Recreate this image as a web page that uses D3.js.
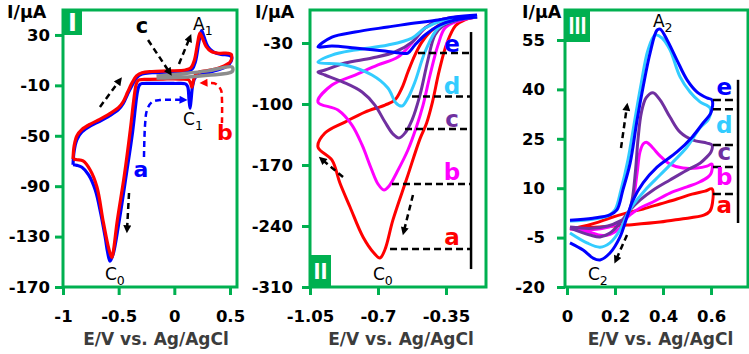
<!DOCTYPE html>
<html>
<head>
<meta charset="utf-8">
<script src="https://cdn.jsdelivr.net/npm/d3@7"></script>
<style>
  body { margin: 0; background: #fff; }
  svg text { font-family: "DejaVu Sans", sans-serif; }
</style>
</head>
<body>
<div id="chart"></div>
<script>
const W = 749, H = 354;
const GREEN = "#00b050";

// ---------- panel I data (E / V, I / uA) ----------
const p1XTicks = [-1, -0.5, 0, 0.5];
const p1YTicks = [30, -10, -50, -90, -130, -170];
const p1CurveA = [[-0.91,-73],[-0.9,-62],[-0.875,-53],[-0.83,-47],[-0.75,-42],[-0.67,-38.5],[-0.58,-34],[-0.5,-29],[-0.46,-24.5],[-0.42,-17],[-0.38,-10],[-0.34,-4],[-0.29,-1],[-0.2,0],[-0.05,0.5],[0.1,1.2],[0.16,3],[0.19,9],[0.22,24],[0.245,33.5],[0.265,29],[0.3,21],[0.35,16.5],[0.42,14.5],[0.49,14],[0.515,12.5],[0.51,9],[0.47,5],[0.38,2],[0.26,-1],[0.19,-3.5],[0.165,-10],[0.15,-22],[0.141,-28],[0.132,-21],[0.12,-11],[0.1,-8.8],[0.0,-8.5],[-0.15,-8.5],[-0.29,-8.5],[-0.305,-9],[-0.32,-11],[-0.335,-17],[-0.375,-47],[-0.43,-80],[-0.5,-120],[-0.55,-144],[-0.578,-149.5],[-0.6,-142],[-0.62,-131],[-0.66,-112],[-0.71,-93],[-0.77,-81],[-0.83,-75],[-0.875,-73.5],[-0.91,-73]];
const p1CurveB = [[-0.91,-68.5],[-0.9,-58],[-0.875,-50],[-0.83,-45],[-0.75,-40.5],[-0.67,-37],[-0.58,-32.5],[-0.5,-27.5],[-0.46,-23],[-0.42,-15.5],[-0.38,-8],[-0.34,-2.5],[-0.29,0],[-0.2,1],[-0.05,1.5],[0.1,2.2],[0.15,4],[0.18,10],[0.21,24],[0.23,31.5],[0.25,28],[0.285,21],[0.33,17],[0.4,15.5],[0.48,15.5],[0.512,14.5],[0.508,9.5],[0.48,7],[0.4,3.8],[0.3,1.8],[0.22,0.5],[0.19,-1.5],[0.172,-6],[0.158,-11.5],[0.145,-8],[0.125,-5.5],[0.05,-5],[-0.1,-5],[-0.25,-5.2],[-0.31,-5.5],[-0.33,-6.5],[-0.345,-10],[-0.365,-22],[-0.395,-45],[-0.45,-82],[-0.515,-119],[-0.545,-140],[-0.56,-146.5],[-0.578,-143],[-0.596,-137],[-0.641,-117],[-0.695,-90.6],[-0.757,-77],[-0.82,-70],[-0.874,-69],[-0.91,-68.5]];
const p1CurveC = [[-0.16,-2.5],[0.1,-0.5],[0.3,1.5],[0.52,4.5],[0.52,1],[0.3,-2],[0.1,-3.5],[-0.16,-4.2]];

// ---------- panel II data ----------
const p2XTicks = [-1.05, -0.7, -0.35];
const p2YTicks = [-30, -100, -170, -240, -310];
const p2CurveA = [[-0.19,-0.2],[-0.25,-3],[-0.3,-10],[-0.345,-30],[-0.385,-62],[-0.42,-98],[-0.45,-122],[-0.484,-140],[-0.551,-185],[-0.623,-233],[-0.664,-267],[-0.69,-276.7],[-0.721,-271],[-0.777,-252.6],[-0.844,-218.2],[-0.896,-190.7],[-0.937,-164.3],[-1.009,-149.3],[-0.973,-133.3],[-0.87,-120.7],[-0.767,-109.2],[-0.664,-101.2],[-0.613,-95.4],[-0.577,-81.6],[-0.546,-63.3],[-0.51,-43.8],[-0.474,-28.9],[-0.422,-15.1],[-0.355,-5.9],[-0.268,-1.3],[-0.19,-0.2]];
const p2CurveB = [[-0.19,-0.2],[-0.288,-4.8],[-0.355,-12.8],[-0.391,-32.3],[-0.432,-66.7],[-0.468,-101.2],[-0.504,-127.5],[-0.546,-152.8],[-0.602,-178],[-0.643,-194.1],[-0.669,-198.7],[-0.7,-191.8],[-0.736,-173.4],[-0.782,-147],[-0.834,-124.1],[-0.906,-106.9],[-1.009,-97.7],[-0.937,-78.2],[-0.818,-66.7],[-0.7,-55.2],[-0.597,-46.1],[-0.525,-30],[-0.458,-12.8],[-0.381,-3.6],[-0.288,-0.2],[-0.19,0.5]];
const p2CurveC = [[-0.19,-0.2],[-0.288,-3.6],[-0.366,-10.5],[-0.407,-20.8],[-0.443,-49.5],[-0.484,-89.7],[-0.525,-118.4],[-0.561,-133.3],[-0.592,-139],[-0.623,-134.4],[-0.664,-120.7],[-0.716,-101.2],[-0.782,-86.2],[-0.88,-74.8],[-0.973,-66.7],[-1.009,-63.3],[-0.973,-61],[-0.87,-53],[-0.731,-47.2],[-0.613,-40.3],[-0.525,-28.9],[-0.458,-12.8],[-0.381,-3.6],[-0.288,-0.2],[-0.19,0.5]];
const p2CurveD = [[-0.19,-0.2],[-0.304,-3.6],[-0.391,-12.8],[-0.458,-40.3],[-0.51,-74.8],[-0.546,-93.1],[-0.577,-102.3],[-0.607,-98.9],[-0.649,-81.6],[-0.731,-66.7],[-0.87,-55.2],[-1.009,-51.8],[-0.937,-43.8],[-0.818,-38],[-0.649,-32.3],[-0.525,-24.3],[-0.458,-12.8],[-0.355,-3.6],[-0.19,1]];
const p2CurveE = [[-0.19,-0.2],[-0.304,-3.6],[-0.381,-9.3],[-0.458,-20.8],[-0.51,-32.3],[-0.546,-41.5],[-0.587,-41.5],[-0.664,-39.2],[-0.818,-35.7],[-0.937,-33.4],[-1.009,-34.6],[-0.937,-23.1],[-0.818,-17.4],[-0.649,-11.6],[-0.51,-7],[-0.391,-3.6],[-0.304,-0.2],[-0.19,2.1]];
const p2Levels = [-266.5, -191.9, -128.7, -91.4, -41.5];   // a..e

// ---------- panel III data ----------
const p3XTicks = [0, 0.2, 0.4, 0.6];
const p3YTicks = [55, 40, 25, 10, -5, -20];
const p3CurveA = [[0.0125,-2.4],[0.054,-1.8],[0.117,-0.6],[0.179,0.95],[0.25,2.5],[0.317,3.7],[0.3875,5.2],[0.458,6.7],[0.521,8.2],[0.575,9.1],[0.604,9.8],[0.606,5.5],[0.595,3],[0.57,1.8],[0.471,0.6],[0.3875,-0.3],[0.25,-1.2],[0.1375,-1.8],[0.0125,-2.1]];
const p3CurveB = [[0.0125,-2.1],[0.1,-2.6],[0.175,-1.8],[0.22,-0.3],[0.25,1.5],[0.275,6.4],[0.292,14.6],[0.304,21],[0.318,23.5],[0.333,23.9],[0.358,22.2],[0.3875,19.8],[0.429,17.3],[0.483,16.1],[0.542,16.1],[0.583,16.7],[0.604,17.3],[0.6,14.5],[0.5875,13.4],[0.55,11.8],[0.5,10.4],[0.429,8.5],[0.358,5.8],[0.304,4],[0.27,2.3],[0.25,1],[0.221,-2.1],[0.18,-4],[0.14,-4.3],[0.1,-3.5],[0.0125,-2.3]];
const p3CurveC = [[0.0125,-1.8],[0.1,-2.2],[0.17,-1.5],[0.22,0],[0.25,1.5],[0.27,6],[0.285,15],[0.296,25],[0.31,33],[0.33,37.5],[0.358,39],[0.3875,36.8],[0.429,31.6],[0.471,27],[0.525,24.6],[0.583,23.7],[0.604,23.1],[0.6,21],[0.583,19.5],[0.554,17.6],[0.5,15.5],[0.429,12.5],[0.358,9.4],[0.304,6.4],[0.2625,3.4],[0.221,-0.6],[0.179,-3.6],[0.1375,-4.8],[0.096,-4.2],[0.0125,-2.1]];
const p3CurveD = [[0.0125,0],[0.108,0.6],[0.171,1.6],[0.2,3.4],[0.225,9.5],[0.254,18.6],[0.279,29.2],[0.308,41.3],[0.3375,52],[0.367,56.5],[0.396,55.6],[0.429,52],[0.471,43.8],[0.5125,39.2],[0.554,36.2],[0.596,34.3],[0.59,31],[0.554,28.3],[0.5,22.5],[0.442,18],[0.3875,14],[0.325,9.4],[0.275,4.9],[0.25,1.9],[0.221,-2.7],[0.179,-6.6],[0.1375,-7.9],[0.083,-6.6],[0.0125,-3.6]];
const p3CurveE = [[0.0125,0.3],[0.108,0.9],[0.179,1.9],[0.208,3.4],[0.233,9.5],[0.263,17.6],[0.292,30.7],[0.317,40.7],[0.346,51],[0.375,58],[0.388,58.3],[0.417,55],[0.458,48.9],[0.5,42.9],[0.542,39.2],[0.583,37.4],[0.604,36.8],[0.6,33],[0.567,29.8],[0.521,25.5],[0.458,21],[0.375,16.4],[0.317,11.6],[0.275,6.4],[0.25,1.25],[0.221,-4.8],[0.179,-9.7],[0.1375,-11.8],[0.108,-11.2],[0.067,-8.8],[0.0125,-6.6]];
const p3Levels = [8.2, 16.4, 23.1, 34, 36.8];   // a..e

const seriesNames = ["a", "b", "c", "d", "e"];
const seriesColors = ["#ff0000", "#ff00ff", "#7030a0", "#33ccff", "#0000ff"];

const svg = d3.select("#chart").append("svg")
    .attr("width", W)
    .attr("height", H);

// arrow heads
const defs = svg.append("defs");
[["k", "#000"], ["r", "#ff0000"], ["b", "#0000ff"]].forEach(([id, col]) => {
    defs.append("marker")
        .attr("id", "head-" + id)
        .attr("viewBox", "0 0 10 10")
        .attr("refX", 6).attr("refY", 5)
        .attr("markerWidth", 9).attr("markerHeight", 8)
        .attr("markerUnits", "userSpaceOnUse")
        .attr("orient", "auto")
        .append("path")
        .attr("d", "M0,0L10,5L0,10z")
        .attr("fill", col);
});

function makePanel(o) {
    const x = d3.scaleLinear().domain(o.xDomain).range([o.left, o.right]);
    const y = d3.scaleLinear().domain(o.yDomain).range([o.bottom, o.top]);
    const g = svg.append("g");

    const xAxis = g.append("g")
        .attr("transform", `translate(0,${o.bottom})`)
        .call(d3.axisBottom(x).tickValues(o.xTicks).tickFormat(d => String(d))
            .tickSize(8).tickSizeOuter(0).tickPadding(15));
    const yAxis = g.append("g")
        .attr("transform", `translate(${o.left},0)`)
        .call(d3.axisLeft(y).tickValues(o.yTicks).tickFormat(d => String(d))
            .tickSize(8).tickSizeOuter(0).tickPadding(o.yPad));
    [xAxis, yAxis].forEach(a => {
        a.select(".domain").remove();
        a.selectAll("line").attr("stroke", GREEN).attr("stroke-width", 3);
        a.selectAll("text")
            .attr("fill", "#000")
            .style("font-family", "'DejaVu Sans', sans-serif")
            .style("font-size", "16.5px")
            .style("font-weight", "bold");
    });

    g.append("rect")
        .attr("x", o.left).attr("y", o.top)
        .attr("width", o.right - o.left).attr("height", o.bottom - o.top)
        .attr("fill", "none")
        .attr("stroke", GREEN)
        .attr("stroke-width", 3);

    // axis titles
    g.append("text")
        .attr("x", (o.left + o.right) / 2 + o.titleShift)
        .attr("y", 345)
        .attr("text-anchor", "middle")
        .attr("fill", "#3c3c3c")
        .style("font-size", "17px")
        .style("font-weight", "bold")
        .text("E/V vs. Ag/AgCl");
    g.append("text")
        .attr("x", o.yTitleX)
        .attr("y", 18)
        .style("font-size", "17.5px")
        .style("font-weight", "bold")
        .text("I/μA");

    return { g, x, y };
}

function curveLine(p) {
    return d3.line()
        .x(d => p.x(d[0]))
        .y(d => p.y(d[1]))
        .curve(d3.curveCatmullRom.alpha(0.5));
}

function drawCurve(p, data, color, width) {
    p.g.append("path")
        .attr("d", curveLine(p)(data))
        .attr("fill", "none")
        .attr("stroke", color)
        .attr("stroke-width", width || 3)
        .attr("stroke-linejoin", "round");
}

function arrow(p, pts, color, head) {
    p.g.append("path")
        .attr("d", curveLine(p)(pts))
        .attr("fill", "none")
        .attr("stroke", color)
        .attr("stroke-width", 2.5)
        .attr("stroke-dasharray", "6,4")
        .attr("marker-end", `url(#head-${head})`);
}

function letter(p, E, I, txt, color, size) {
    p.g.append("text")
        .attr("x", p.x(E)).attr("y", p.y(I))
        .attr("text-anchor", "middle")
        .attr("fill", color)
        .style("font-size", size + "px")
        .style("font-weight", "bold")
        .text(txt);
}

function peakLabel(p, E, I, main, sub) {
    const t = p.g.append("text")
        .attr("x", p.x(E)).attr("y", p.y(I))
        .attr("fill", "#000")
        .style("font-size", "17px");
    t.append("tspan").text(main);
    t.append("tspan").attr("dy", 5).style("font-size", "12.5px").text(sub);
}

function panelTag(x0, y0, w, h, txt, size, len) {
    svg.append("rect")
        .attr("x", x0).attr("y", y0).attr("width", w).attr("height", h)
        .attr("fill", GREEN);
    const t = svg.append("text")
        .attr("x", x0 + w / 2).attr("y", y0 + h - (h - size * 0.73) / 2)
        .attr("text-anchor", "middle")
        .attr("fill", "#fff")
        .style("font-size", size + "px")
        .style("font-weight", "bold")
        .text(txt);
    if (len) t.attr("textLength", len).attr("lengthAdjust", "spacingAndGlyphs");
}

// ================= Panel I =================
const p1 = makePanel({
    left: 63, right: 237, top: 10, bottom: 287,
    xDomain: [-1, 0.563], yDomain: [-170, 49.8],
    xTicks: p1XTicks, yTicks: p1YTicks, yPad: 5,
    titleShift: 6, yTitleX: 7
});
drawCurve(p1, p1CurveA, "#0000ff", 3.2);
drawCurve(p1, p1CurveB, "#ff0000", 3.2);
drawCurve(p1, p1CurveC, "#8c8c8c", 3.5);

arrow(p1, [[-0.668, -27.1], [-0.488, -5.7]], "#000", "k");
arrow(p1, [[0.042, 7], [0.141, 28.4]], "#000", "k");
arrow(p1, [[-0.236, 26], [-0.039, -0.2]], "#000", "k");
arrow(p1, [[-0.407, -95.4], [-0.425, -124.8]], "#000", "k");
arrow(p1, [[-0.2725, -66.8], [-0.263, -41.4], [-0.245, -29.5], [-0.2, -23.2], [-0.129, -21.6], [0.09, -21.6]], "#0000ff", "b");
arrow(p1, [[0.428, -39.8], [0.428, -21.6], [0.419, -13.7], [0.374, -8.9], [0.32, -8.1], [0.255, -8.1]], "#ff0000", "r");

letter(p1, -0.29, 31.6, "c", "#000", 21);
letter(p1, -0.299, -82.7, "a", "#0000ff", 22);
letter(p1, 0.455, -53.3, "b", "#ff0000", 22);
peakLabel(p1, 0.168, 34, "A", "1");
peakLabel(p1, 0.078, -41.4, "C", "1");
peakLabel(p1, -0.623, -164.4, "C", "0");

// ================= Panel II =================
const p2 = makePanel({
    left: 310, right: 486, top: 10, bottom: 287,
    xDomain: [-1.05, -0.144], yDomain: [-310, 7.9],
    xTicks: p2XTicks, yTicks: p2YTicks, yPad: 9,
    titleShift: 3, yTitleX: 255
});
[p2CurveA, p2CurveB, p2CurveC, p2CurveD, p2CurveE].forEach((c, i) => drawCurve(p2, c, seriesColors[i], 3));

const p2LineStart = [-0.638, -0.628, -0.561, -0.525, -0.494];
const p2LineEnd = -0.221;
p2.g.append("line")
    .attr("x1", p2.x(p2LineEnd)).attr("x2", p2.x(p2LineEnd))
    .attr("y1", p2.y(-17.4)).attr("y2", p2.y(-289.4))
    .attr("stroke", "#000").attr("stroke-width", 2.5);
p2Levels.forEach((v, i) => {
    p2.g.append("line")
        .attr("x1", p2.x(p2LineStart[i])).attr("x2", p2.x(p2LineEnd))
        .attr("y1", p2.y(v)).attr("y2", p2.y(v))
        .attr("stroke", "#000").attr("stroke-width", 2.5)
        .attr("stroke-dasharray", "7,4");
});
const p2LabelI = [-261.8, -187.2, -126.4, -88.5, -40.3];
seriesNames.forEach((n, i) => letter(p2, -0.319, p2LabelI[i], n, seriesColors[i], 23));

arrow(p2, [[-0.88, -183.8], [-0.992, -163]], "#000", "k");
arrow(p2, [[-0.52, -204.4], [-0.568, -247]], "#000", "k");
peakLabel(p2, -0.726, -302, "C", "0");

// ================= Panel III =================
const p3 = makePanel({
    left: 565, right: 748, top: 10, bottom: 287,
    xDomain: [-0.0083, 0.754], yDomain: [-20, 64.1],
    xTicks: p3XTicks, yTicks: p3YTicks, yPad: 12,
    titleShift: 4, yTitleX: 522
});
[p3CurveA, p3CurveB, p3CurveC, p3CurveD, p3CurveE].forEach((c, i) => drawCurve(p3, c, seriesColors[i], 3));

const p3LineStart = 0.608, p3LineEnd = 0.7125;
p3.g.append("line")
    .attr("x1", p3.x(p3LineEnd)).attr("x2", p3.x(p3LineEnd))
    .attr("y1", p3.y(42.9)).attr("y2", p3.y(-0.57))
    .attr("stroke", "#000").attr("stroke-width", 2.5);
p3Levels.forEach(v => {
    p3.g.append("line")
        .attr("x1", p3.x(p3LineStart)).attr("x2", p3.x(p3LineEnd))
        .attr("y1", p3.y(v)).attr("y2", p3.y(v))
        .attr("stroke", "#000").attr("stroke-width", 2.5)
        .attr("stroke-dasharray", "8,4");
});
const p3LabelI = [2.5, 11, 18.6, 26.8, 38.3];
seriesNames.forEach((n, i) => letter(p3, 0.655, p3LabelI[i], n, seriesColors[i], 23));

arrow(p3, [[0.225, 22.2], [0.25, 35]], "#000", "k");
arrow(p3, [[0.25, -4.2], [0.203, -12]], "#000", "k");
peakLabel(p3, 0.358, 59, "A", "2");
peakLabel(p3, 0.0875, -17.9, "C", "2");

// panel tags
panelTag(63, 10, 19, 25, "I", 24);
panelTag(310, 255, 21, 32, "II", 21, 14);
panelTag(565, 10, 25, 32, "III", 23, 18);
</script>
</body>
</html>
